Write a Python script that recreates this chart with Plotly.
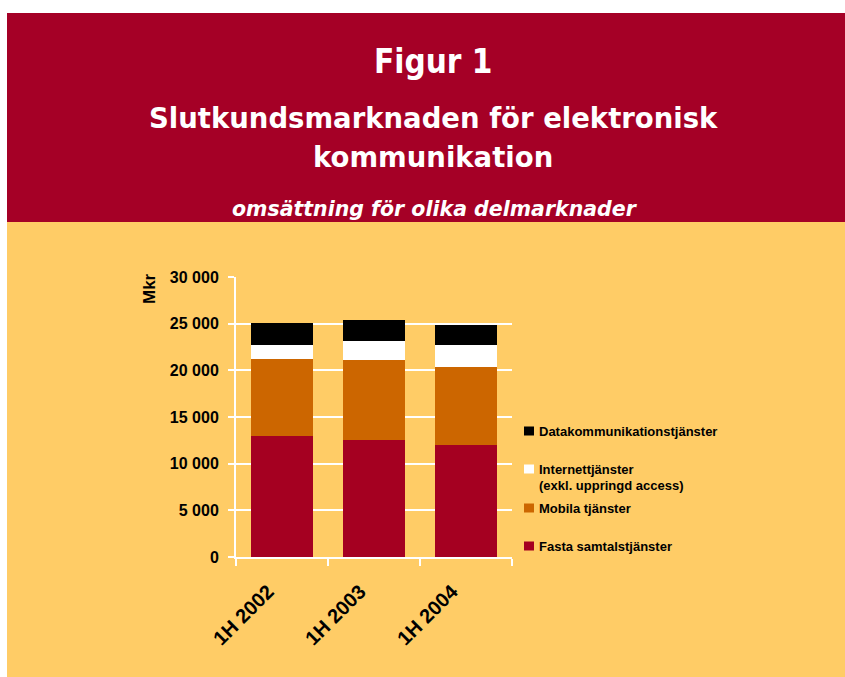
import plotly.graph_objects as go

categories = ["1H 2002", "1H 2003", "1H 2004"]
fasta = [12960, 12560, 12000]
mobila = [8300, 8590, 8340]
internet = [1440, 2040, 2390]
data_komm = [2390, 2230, 2150]

series_names = ["Fasta samtalstjänster", "Mobila tjänster",
                "Internettjänster<br>(exkl. uppringd access)", "Datakommunikationstjänster"]
series_values = [fasta, mobila, internet, data_komm]
series_colors = ["#A50021", "#CC6600", "#FFFFFF", "#000000"]

y_ticks = [0, 5000, 10000, 15000, 20000, 25000, 30000]

W, H = 845, 677
L, R, T, B = 236, 512, 277, 557
PW, PH = R - L, B - T

def px(x):
    return (x - L) / PW

def py(y):
    return (B - y) / PH

YELLOW = "#FFCC66"
RED = "#A50026"
FONT = "Liberation Sans, Arial, sans-serif"

fig = go.Figure()
for name, vals, col in zip(series_names, series_values, series_colors):
    fig.add_trace(go.Bar(x=categories, y=vals, name=name, marker_color=col,
                         marker_line_width=0, showlegend=False))

shapes = [
    dict(type="rect", xref="paper", yref="paper", x0=px(0), x1=px(W), y0=py(H), y1=py(0),
         fillcolor=YELLOW, line_width=0, layer="below"),
    dict(type="rect", xref="paper", yref="paper", x0=px(7), x1=px(W), y0=py(222), y1=py(13),
         fillcolor=RED, line_width=0, layer="below"),
    dict(type="rect", xref="paper", yref="paper", x0=px(0), x1=px(7), y0=py(H), y1=py(0),
         fillcolor="white", line_width=0, layer="below"),
    dict(type="rect", xref="paper", yref="paper", x0=px(0), x1=px(W), y0=py(13), y1=py(0),
         fillcolor="white", line_width=0, layer="below"),
]

annotations = [
    dict(text="<b>Figur 1</b>", x=px(433), y=py(61), xref="paper", yref="paper",
         showarrow=False, xanchor="center", yanchor="middle",
         font=dict(family="DejaVu Sans Condensed, DejaVu Sans", size=33, color="white")),
    dict(text="<b>Slutkundsmarknaden för elektronisk</b>", x=px(433), y=py(118), xref="paper", yref="paper",
         showarrow=False, xanchor="center", yanchor="middle",
         font=dict(family="DejaVu Sans", size=27.5, color="white")),
    dict(text="<b>kommunikation</b>", x=px(433), y=py(157), xref="paper", yref="paper",
         showarrow=False, xanchor="center", yanchor="middle",
         font=dict(family="DejaVu Sans", size=27.5, color="white")),
    dict(text="<b><i>omsättning för olika delmarknader</i></b>", x=px(435), y=py(209), xref="paper", yref="paper",
         showarrow=False, xanchor="center", yanchor="middle",
         font=dict(family="DejaVu Sans", size=20.5, color="white")),
    dict(text="<b>Mkr</b>", x=px(149), y=py(289), xref="paper", yref="paper",
         showarrow=False, xanchor="center", yanchor="middle", textangle=-90,
         font=dict(family=FONT, size=17, color="black")),
]

# legend (top to bottom)
legend_items = [
    (3, 431, ["Datakommunikationstjänster"]),
    (2, 469, ["Internettjänster", "(exkl. uppringd access)"]),
    (1, 508, ["Mobila tjänster"]),
    (0, 546, ["Fasta samtalstjänster"]),
]
for idx, yc, lines in legend_items:
    shapes.append(dict(type="rect", xref="paper", yref="paper",
                       x0=px(524), x1=px(534), y0=py(yc + 4.5), y1=py(yc - 4.5),
                       fillcolor=series_colors[idx], line_width=0))
    for k, line in enumerate(lines):
        annotations.append(dict(text="<b>" + line + "</b>", x=px(537), y=py(yc + 16 * k),
                                xref="paper", yref="paper", showarrow=False,
                                xanchor="left", yanchor="middle",
                                font=dict(family=FONT, size=13, color="black")))

fig.update_layout(
    width=W, height=H,
    margin=dict(l=L, r=W - R, t=T, b=H - B, pad=0),
    paper_bgcolor=YELLOW, plot_bgcolor="rgba(0,0,0,0)",
    barmode="stack", bargap=0.32,
    separators=", ",
    shapes=shapes, annotations=annotations,
    font=dict(family=FONT, color="black"),
    xaxis=dict(type="category", range=[-0.5, 2.5], tickson="boundaries",
               ticks="outside", ticklen=7, tickwidth=2, tickcolor="white",
               showline=True, linecolor="white", linewidth=2, showgrid=False,
               tickangle=-45, ticklabelstandoff=13, ticklabelshift=-14,
               tickfont=dict(family=FONT, size=20, color="black", weight="bold")),
    yaxis=dict(range=[0, 30000], tickvals=y_ticks, tickformat=",d",
               ticks="outside", ticklen=6, tickwidth=2, tickcolor="white",
               showline=True, linecolor="white", linewidth=2,
               showgrid=True, gridcolor="white", gridwidth=2, zeroline=False,
               tickfont=dict(family=FONT, size=16, color="black", weight="bold"), ticklabelstandoff=6),
)

fig.write_html("out.html", config={"displayModeBar": False},
               post_script="document.body.style.margin='0';document.body.style.overflow='hidden';")
